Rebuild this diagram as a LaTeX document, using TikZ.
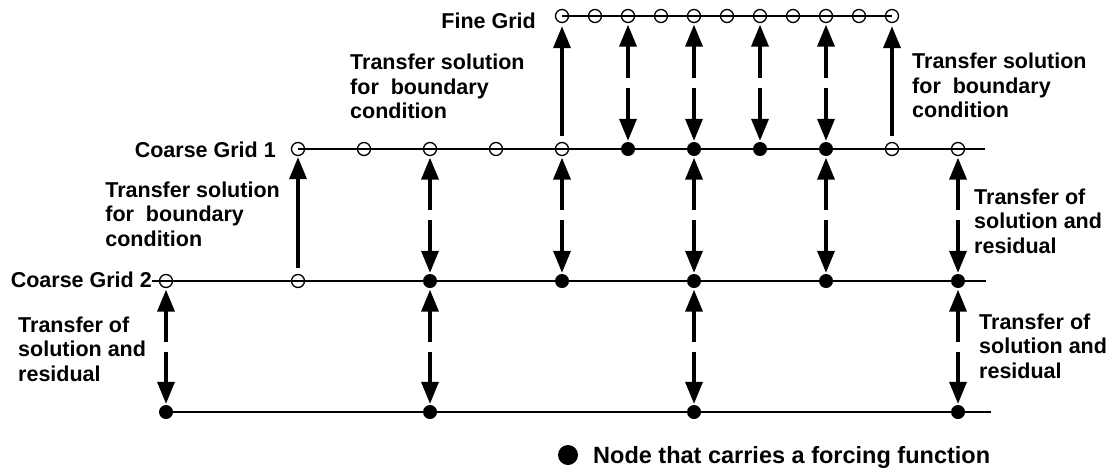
\documentclass[tikz,border=0pt]{standalone}
\usepackage{fontspec}
\setmainfont{Liberation Sans}
\usetikzlibrary{arrows.meta,calc}

% two-headed transfer arrow with a break in the middle: #1 upper node, #2 lower node
\newcommand\twoway[2]{%
  \draw[xfer,shorten >=1.5pt] ($(#1)!0.5!(#2)+(0,-5)$) -- (#1);
  \draw[xfer,shorten >=1pt] ($(#1)!0.5!(#2)+(0,5)$) -- (#2);
}

\begin{document}
\begin{tikzpicture}[x=1pt,y=-1pt,
  gridline/.style={line width=1.6pt},
  opennode/.style={circle,draw,line width=1.3pt,minimum size=13pt,inner sep=0pt},
  forcenode/.style={circle,fill,minimum size=14pt,inner sep=0pt},
  xfer/.style={line width=3.5pt,-{Triangle[length=22pt,width=17pt]}},
  lbl/.style={font=\fontsize{21.5}{24.5}\selectfont\bfseries,inner sep=0pt,align=left},
]
\useasboundingbox (0,0) rectangle (1116,472);

% fine grid
\foreach \i in {0,...,10} \node[opennode] (f\i) at ({562+33*\i},16) {};
% coarse grid 1
\foreach \i in {0,...,4,9,10} \node[opennode] (c\i) at ({298+66*\i},149) {};
\foreach \i in {5,...,8} \node[forcenode] (c\i) at ({298+66*\i},149) {};
% coarse grid 2
\foreach \i in {0,1} \node[opennode] (d\i) at ({166+132*\i},281) {};
\foreach \i in {2,...,6} \node[forcenode] (d\i) at ({166+132*\i},281) {};
% coarsest grid
\foreach \i in {0,...,3} \node[forcenode] (b\i) at ({166+264*\i},412) {};

% grid lines
\coordinate (c1end) at (985,149);
\coordinate (d2start) at (152,281);
\coordinate (d2end) at (986,281);
\coordinate (b0start) at (160,412);
\coordinate (b0end) at (991,412);
\draw[gridline] (f0.center) -- (f10.center);
\draw[gridline] (c0.center) -- (c1end);
\draw[gridline] (d2start) -- (d2end);
\draw[gridline] (b0start) -- (b0end);

% boundary-condition transfers
\draw[xfer,shorten <=6pt,shorten >=3pt] (c4) -- (f0);
\draw[xfer,shorten <=6pt,shorten >=3pt] (c9) -- (f10);
\draw[xfer,shorten <=6pt,shorten >=1pt] (d1) -- (c0);

% solution and residual transfers
\twoway{f2}{c5}
\twoway{f4}{c6}
\twoway{f6}{c7}
\twoway{f8}{c8}
\twoway{c2}{d2}
\twoway{c4}{d3}
\twoway{c6}{d4}
\twoway{c8}{d5}
\twoway{c10}{d6}
\twoway{d0}{b0}
\twoway{d2}{b1}
\twoway{d4}{b2}
\twoway{d6}{b3}

% labels
\node[lbl,anchor=base east] (lfine) at (536,28) {Fine Grid};
\node[lbl,anchor=base east] (lc1) at (276,157) {Coarse Grid 1};
\node[lbl,anchor=base east] (lc2) at (152,287) {Coarse Grid 2};
\node[lbl,anchor=north west] (tbc1) at (350,54) {Transfer solution\\for\ \ boundary\\condition};
\node[lbl,anchor=north west] (tbc2) at (912,53) {Transfer solution\\for\ \ boundary\\condition};
\node[lbl,anchor=north east] (tbc3) at (280,181.5) {Transfer solution\\for\ \ boundary\\condition};
\node[lbl,anchor=north west] (tsr1) at (18,316.5) {Transfer of\\solution and\\residual};
\node[lbl,anchor=north west] (tsr2) at (974,188.5) {Transfer of\\solution and\\residual};
\node[lbl,anchor=north west] (tsr3) at (979,313.5) {Transfer of\\solution and\\residual};

% legend
\node[forcenode,minimum size=20pt] (key) at (568,455) {};
\node[lbl,font=\fontsize{23.5}{26}\selectfont\bfseries,anchor=base west] (keytext) at (593,463) {Node that carries a forcing function};
\end{tikzpicture}
\end{document}
